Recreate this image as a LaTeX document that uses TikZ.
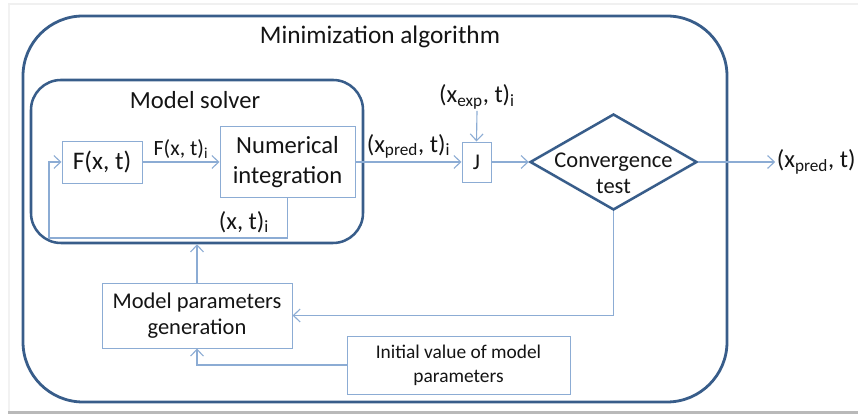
\documentclass[tikz,border=0pt]{standalone}
\usepackage{fontspec}
\setmainfont{Carlito}
\usetikzlibrary{arrows.meta,positioning,shapes.geometric,calc}
\definecolor{mnblue}{RGB}{56,93,138}
\definecolor{mnline}{RGB}{140,172,212}
\definecolor{mntext}{RGB}{20,20,20}

\begin{document}
\begin{tikzpicture}[
  blk/.style={rectangle, draw=mnline, fill=white, line width=0.7pt, align=center,
              inner sep=0pt, text=mntext, font=\fontsize{17.5}{21}\selectfont},
  grp/.style={rectangle, draw=mnblue, line width=2pt, inner sep=0pt},
  dec/.style={diamond, draw=mnblue, line width=1.8pt, inner sep=0pt, aspect=1.74},
  flow/.style={mnline, line width=0.8pt, -{Straight Barb[length=1.7mm,width=3.2mm]}},
  lbl/.style={font=\fontsize{17.5}{20}\selectfont, text=mntext, inner sep=1pt}
]
  \useasboundingbox (0,0) rectangle (21.45,10.4);
  % screenshot frame
  \fill[gray!12] (0.2,10.325) rectangle (21.45,10.275);
  \fill[gray!10] (0.2,10.275) rectangle (0.26,0.125);
  \fill[gray!55] (0.2,0.125) rectangle (21.45,0.05);

  % Minimization algorithm
  \node[grp, rounded corners=1.5cm, minimum width=17.6cm, minimum height=9.65cm] (minalg) at (9.375,5.175) {};
  \node[lbl, font=\fontsize{18}{20}\selectfont] (minttl) at (9.5,9.475) {Minimization algorithm};

  % Model solver
  \node[grp, line width=1.8pt, rounded corners=0.75cm, minimum width=8.3cm, minimum height=4.075cm] (solver) at (4.925,6.3625) {};
  \node[lbl] (solttl) at (4.875,7.9) {Model solver};

  \node[blk, minimum width=2cm, minimum height=1.05cm, font=\fontsize{18}{21}\selectfont] (fxt) at (2.55,6.35) {F(x, t)};
  \node[blk, minimum width=3.375cm, minimum height=1.775cm] (numint) at (7.1875,6.35) {Numerical\\integration};
  \node[blk, minimum width=0.725cm, minimum height=1cm, font=\fontsize{16}{19}\selectfont] (jbox) at (11.9125,6.35) {J};
  \node[dec, minimum width=4.175cm, minimum height=2.4cm] (conv) at (15.3375,6.35) {};
  \node[blk, draw=none, fill=none, font=\fontsize{16}{19}\selectfont] (convtxt) at (15.3375,6.07) {Convergence\\test};

  \node[blk, minimum width=4.75cm, minimum height=1.625cm, font=\fontsize{16}{19}\selectfont] (mpg) at (4.925,2.5125) {Model parameters\\generation};
  \node[blk, minimum width=5.575cm, minimum height=1.45cm, font=\fontsize{13.8}{17}\selectfont] (init) at (11.4625,1.275) {Initial value of model\\parameters};

  \node[lbl] (xexp) at (11.925,7.975) {(x\textsubscript{exp}, t)\textsubscript{i}};
  \node[lbl, anchor=west] (xout) at (19.38,6.35) {(x\textsubscript{pred}, t)};
  \node[lbl] (xti) at (6.1,4.85) {(x, t)\textsubscript{i}};
  \coordinate (loopc) at (1.225,4.45);

  % Connectors
  \draw[flow] (fxt.east) -- node[lbl, above=1pt, font=\fontsize{15.5}{18}\selectfont] {F(x, t)\textsubscript{i}} (numint.west);
  \draw[flow] (numint.south) |- (loopc) |- (fxt.west);
  \draw[flow] (numint.east) -- node[lbl, above=1pt] {(x\textsubscript{pred}, t)\textsubscript{i}} (jbox.west);
  \draw[flow] (xexp.south) -- (jbox.north);
  \draw[flow] (jbox.east) -- (conv.west);
  \draw[flow] (conv.east) -- (xout.west);
  \draw[flow] (conv.south) |- (mpg.east);
  \draw[flow] (mpg.north) -- (mpg.north |- solver.south);
  \draw[flow] (init.west) -| (mpg.south);
\end{tikzpicture}
\end{document}
